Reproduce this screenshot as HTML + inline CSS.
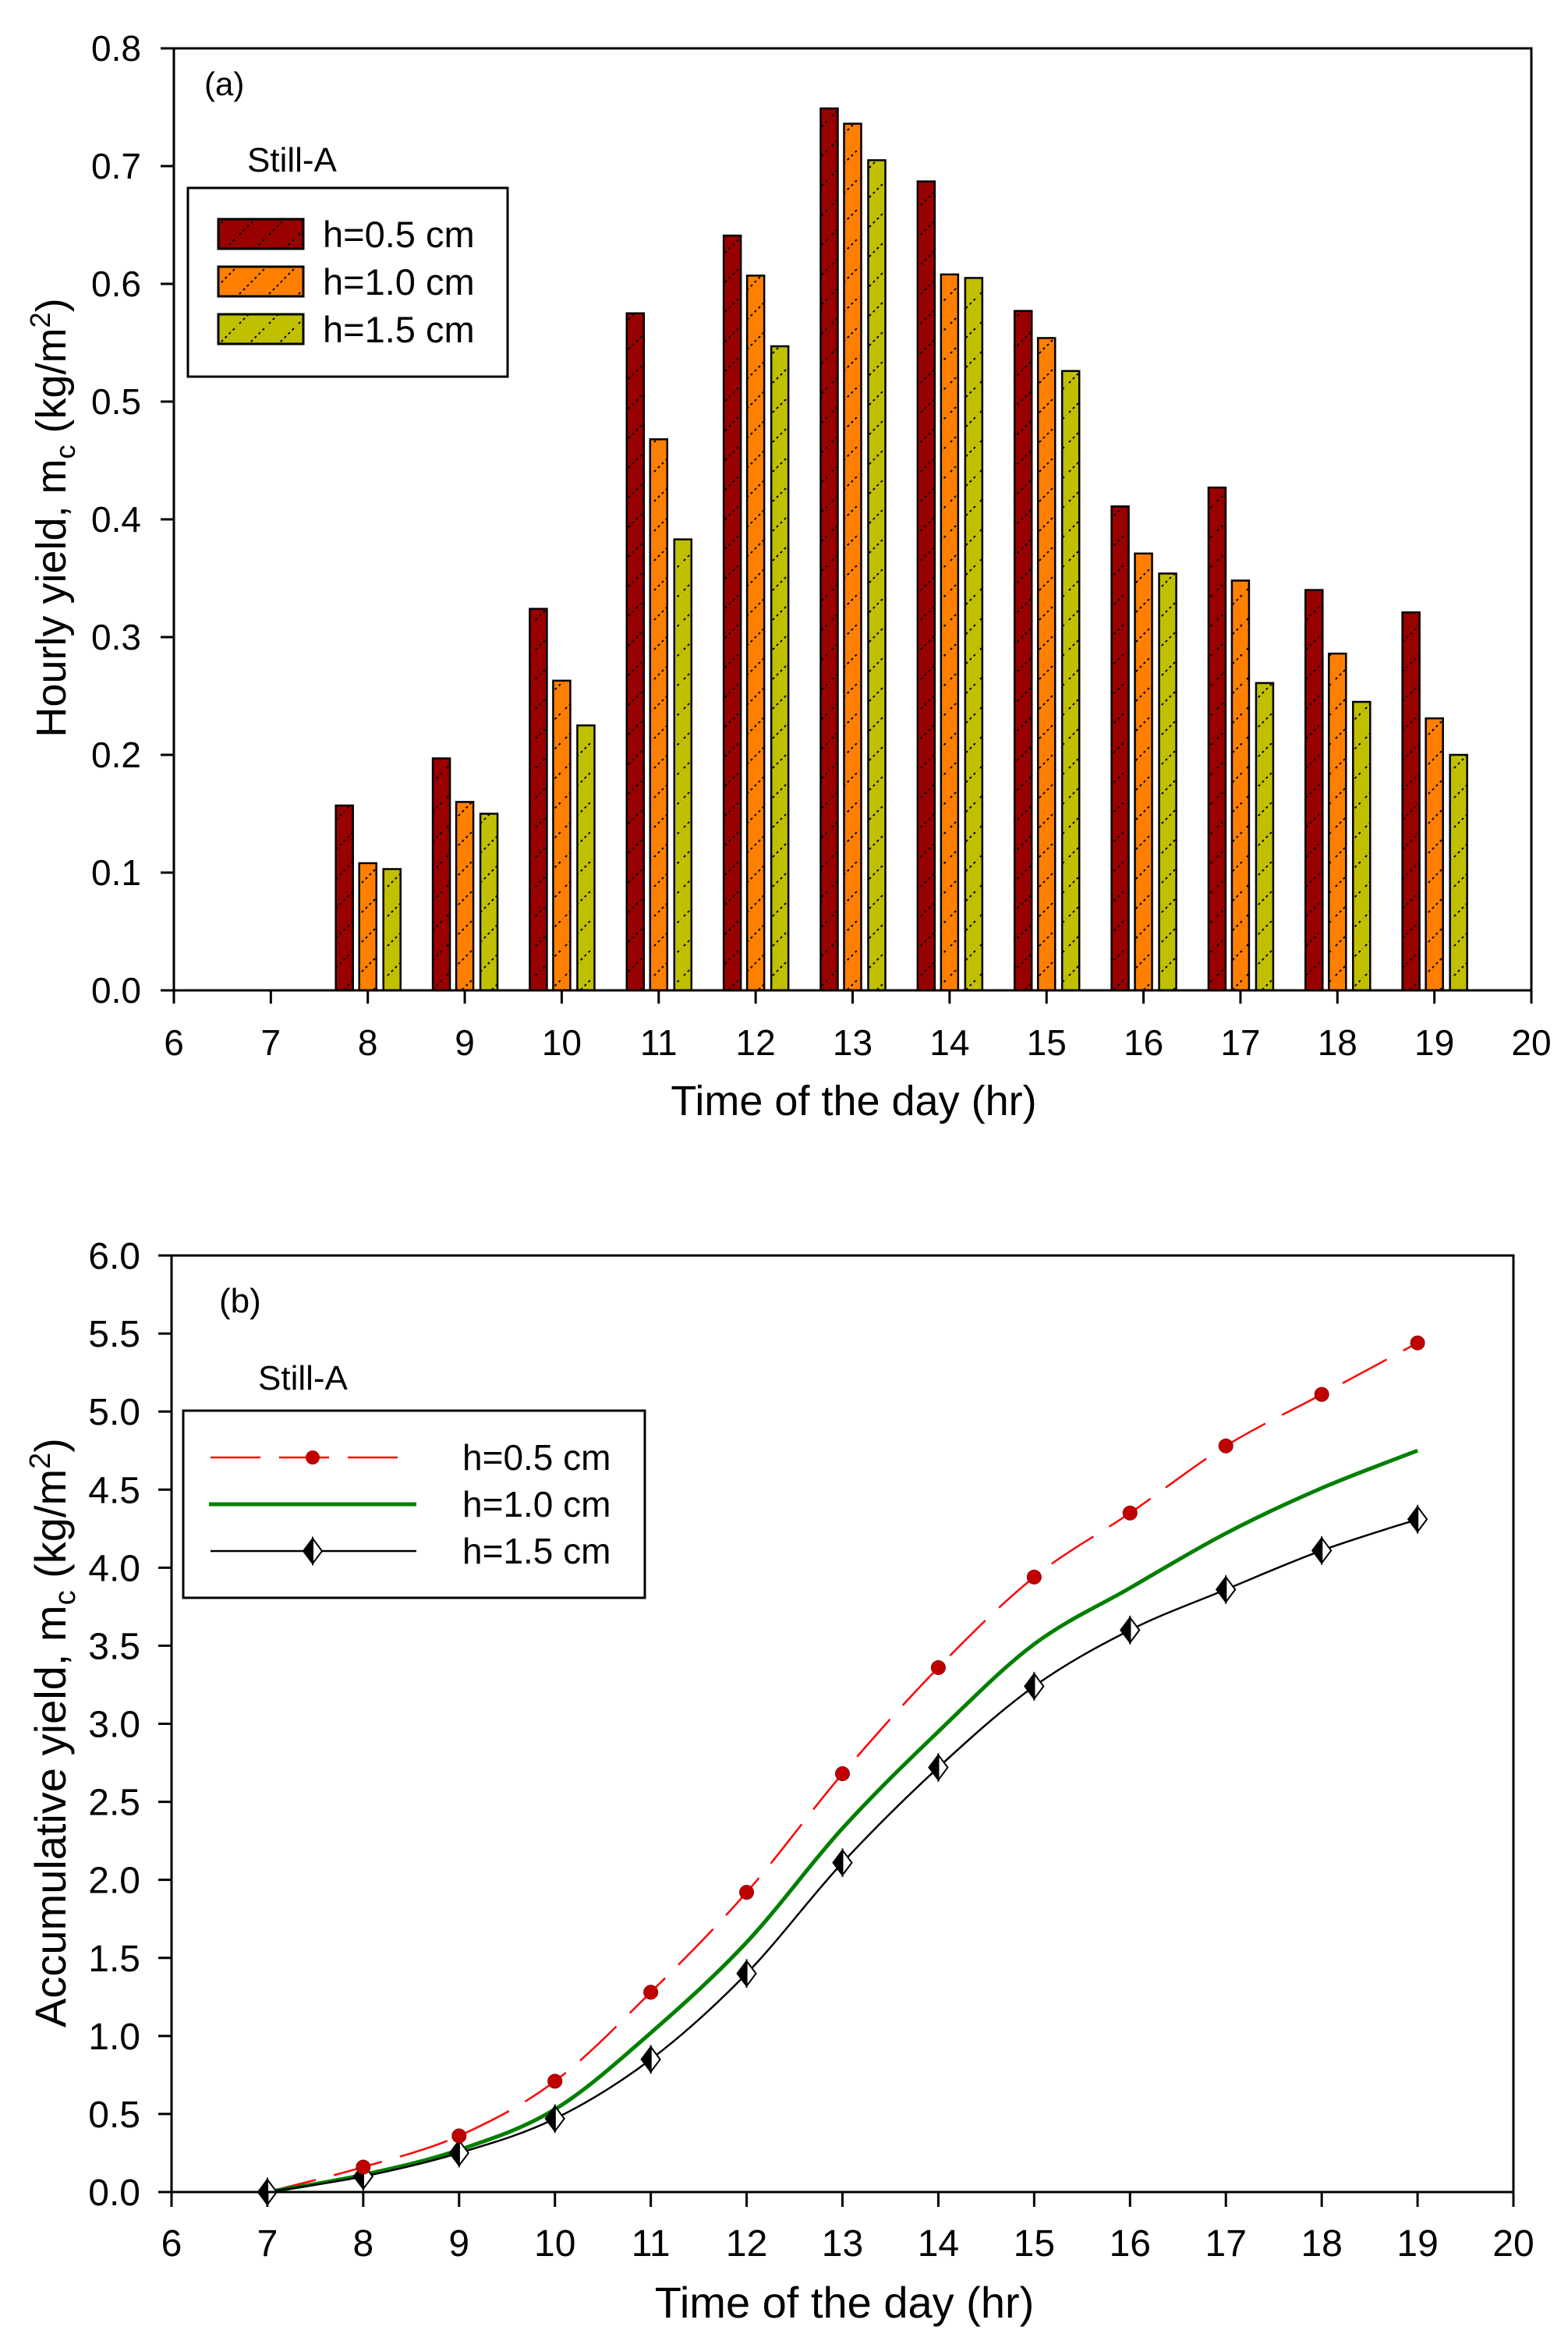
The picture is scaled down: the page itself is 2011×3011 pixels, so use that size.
<!DOCTYPE html>
<html><head><meta charset="utf-8"><style>
html,body{margin:0;padding:0;background:#fff;}
svg{display:block;font-family:"Liberation Sans",Arial,sans-serif;}
</style></head><body>
<svg id="root" width="2011" height="3011" viewBox="0 0 2011 3011" xmlns="http://www.w3.org/2000/svg">
<defs>
<pattern id="hatch" patternUnits="userSpaceOnUse" width="38" height="38">
<line x1="-2" y1="40" x2="40" y2="-2" stroke="#000" stroke-width="2" stroke-dasharray="3,4"/>
</pattern>
</defs>
<g id="chartA"></g>
<g id="chartB"></g>
</svg>
<script>
// ---- Chart (a) data ----
const hoursA = [8, 9, 10, 11, 12, 13, 14, 15, 16, 17, 18, 19];
const yieldA05 = [0.157, 0.197, 0.324, 0.575, 0.641, 0.749, 0.687, 0.577, 0.411, 0.427, 0.340, 0.321];
const yieldA10 = [0.108, 0.160, 0.263, 0.468, 0.607, 0.736, 0.608, 0.554, 0.371, 0.348, 0.286, 0.231];
const yieldA15 = [0.103, 0.150, 0.225, 0.383, 0.547, 0.705, 0.605, 0.526, 0.354, 0.261, 0.245, 0.200];
const xTicksA = [6, 7, 8, 9, 10, 11, 12, 13, 14, 15, 16, 17, 18, 19, 20];
const yTicksA = ["0.0", "0.1", "0.2", "0.3", "0.4", "0.5", "0.6", "0.7", "0.8"];
const seriesNamesA = ["h=0.5 cm", "h=1.0 cm", "h=1.5 cm"];
// ---- Chart (b) data ----
const hoursB = [7, 8, 9, 10, 11, 12, 13, 14, 15, 16, 17, 18, 19];
const accB05 = [0, 0.16, 0.36, 0.71, 1.28, 1.92, 2.68, 3.36, 3.94, 4.35, 4.78, 5.11, 5.44];
const accB10 = [0, 0.11, 0.27, 0.53, 1.02, 1.60, 2.33, 2.95, 3.51, 3.87, 4.22, 4.51, 4.75];
const accB15 = [0, 0.10, 0.25, 0.47, 0.85, 1.40, 2.11, 2.72, 3.24, 3.60, 3.86, 4.11, 4.31];
const xTicksB = [6, 7, 8, 9, 10, 11, 12, 13, 14, 15, 16, 17, 18, 19, 20];
const yTicksB = ["0.0", "0.5", "1.0", "1.5", "2.0", "2.5", "3.0", "3.5", "4.0", "4.5", "5.0", "5.5", "6.0"];

const NS = "http://www.w3.org/2000/svg";
function mk(parent, tag, attrs, text) {
  const e = document.createElementNS(NS, tag);
  for (const k in attrs) e.setAttribute(k, attrs[k]);
  if (text !== undefined) e.textContent = text;
  parent.appendChild(e);
  return e;
}

// ===== Chart A =====
(function () {
  const g = document.getElementById('chartA');
  const L = 223, R = 1964, T = 62, B = 1270;
  const xA = v => L + (v - 6) / 14 * (R - L);
  const yA = v => B - v / 0.8 * (B - T);
  const colors = ["#990000", "#FF8000", "#C0C000"];
  const series = [yieldA05, yieldA10, yieldA15];
  const offs = [-30, 0, 31];
  const bw = 22;
  series.forEach((arr, s) => {
    arr.forEach((v, i) => {
      const cx = xA(hoursA[i]) + offs[s];
      const r = mk(g, 'rect', {x: cx - bw / 2, y: yA(v), width: bw, height: yA(0) - yA(v), fill: colors[s], stroke: '#000', 'stroke-width': 2.5});
      
      
      const h = mk(g, 'rect', {x: cx - bw / 2, y: yA(v), width: bw, height: yA(0) - yA(v), fill: 'url(#hatch)'});
      
      
    });
  });
  const frame = mk(g, 'rect', {x: L, y: T, width: R - L, height: B - T, fill: 'none', stroke: '#000', 'stroke-width': 3});
  
  
  xTicksA.forEach(t => {
    const x = xA(t);
    const tk = mk(g, 'line', {x1: x, y1: B, x2: x, y2: B + 17, stroke: '#000', 'stroke-width': 3});
    
    
    const lb = mk(g, 'text', {x: x, y: B + 83, 'font-size': 46, 'text-anchor': 'middle'}, String(t));
    
    
  });
  yTicksA.forEach(t => {
    const y = yA(parseFloat(t));
    const tk = mk(g, 'line', {x1: L - 17, y1: y, x2: L, y2: y, stroke: '#000', 'stroke-width': 3});
    
    
    const lb = mk(g, 'text', {x: 181, y: y + 16, 'font-size': 46, 'text-anchor': 'end'}, t);
    
    
  });
  const xt = mk(g, 'text', {x: 1095, y: 1430, 'font-size': 54, 'text-anchor': 'middle'}, 'Time of the day (hr)');
  
  
  const yt = mk(g, 'text', {transform: 'translate(84,664) rotate(-90)', 'font-size': 54, 'text-anchor': 'middle'});
  
  
  yt.innerHTML = 'Hourly yield, m<tspan font-size="36" dy="12">c</tspan><tspan dy="-12"> (kg/m</tspan><tspan font-size="36" dy="-20">2</tspan><tspan dy="20">)</tspan>';
  const pl = mk(g, 'text', {x: 262, y: 122, 'font-size': 42}, '(a)');
  
  
  const st = mk(g, 'text', {x: 317, y: 220, 'font-size': 44}, 'Still-A');
  
  
  const lg = mk(g, 'g', {});
  
  
  mk(lg, 'rect', {x: 241, y: 241, width: 410, height: 242, fill: '#fff', stroke: '#000', 'stroke-width': 3});
  const rowsY = [300, 361, 422];
  seriesNamesA.forEach((n, s) => {
    const ent = mk(lg, 'g', {});
    
    
    mk(ent, 'rect', {x: 280, y: rowsY[s] - 19, width: 109, height: 38, fill: colors[s], stroke: '#000', 'stroke-width': 3});
    mk(ent, 'rect', {x: 280, y: rowsY[s] - 19, width: 109, height: 38, fill: 'url(#hatch)'});
    mk(ent, 'text', {x: 414, y: rowsY[s] + 17, 'font-size': 47}, n);
  });
})();

// ===== Chart B =====
(function () {
  const g = document.getElementById('chartB');
  const L = 220, R = 1941, T = 1610, B = 2811;
  const xB = v => L + (v - 6) / 14 * (R - L);
  const yB = v => B - v / 6 * (B - T);
  function smoothPath(xs, ys) {
    const p = xs.map((x, i) => [xB(x), yB(ys[i])]);
    let d = 'M' + p[0][0] + ',' + p[0][1];
    for (let i = 0; i < p.length - 1; i++) {
      const p0 = p[i - 1] || p[i], p1 = p[i], p2 = p[i + 1], p3 = p[i + 2] || p[i + 1];
      const c1 = [p1[0] + (p2[0] - p0[0]) / 6, p1[1] + (p2[1] - p0[1]) / 6];
      const c2 = [p2[0] - (p3[0] - p1[0]) / 6, p2[1] - (p3[1] - p1[1]) / 6];
      d += ' C' + c1[0] + ',' + c1[1] + ' ' + c2[0] + ',' + c2[1] + ' ' + p2[0] + ',' + p2[1];
    }
    return d;
  }
  const l1 = mk(g, 'path', {d: smoothPath(hoursB, accB05), fill: 'none', stroke: '#FF0000', 'stroke-width': 2.5, 'stroke-dasharray': '64,24'});
  
  
  const l2 = mk(g, 'path', {d: smoothPath(hoursB, accB10), fill: 'none', stroke: '#008000', 'stroke-width': 5});
  
  
  const l3 = mk(g, 'path', {d: smoothPath(hoursB, accB15), fill: 'none', stroke: '#000', 'stroke-width': 2.5});
  
  
  function diamond(parent, x, y) {
    const d = mk(parent, 'g', {});
    mk(d, 'path', {d: `M${x},${y-16} L${x+12},${y} L${x},${y+16} Z`, fill: '#fff', stroke: '#000', 'stroke-width': 2});
    mk(d, 'path', {d: `M${x},${y-16} L${x-12},${y} L${x},${y+16} Z`, fill: '#000', stroke: '#000', 'stroke-width': 2});
    return d;
  }
  accB15.forEach((v, i) => {
    const m = diamond(g, xB(hoursB[i]), yB(v));
    
    
  });
  accB05.forEach((v, i) => {
    if (i === 0) return;
    const c = mk(g, 'circle', {cx: xB(hoursB[i]), cy: yB(v), r: 9, fill: '#C00000', stroke: '#990000', 'stroke-width': 1});
    
    
  });
  const frame = mk(g, 'rect', {x: L, y: T, width: R - L, height: B - T, fill: 'none', stroke: '#000', 'stroke-width': 3});
  
  
  xTicksB.forEach(t => {
    const x = xB(t);
    const tk = mk(g, 'line', {x1: x, y1: B, x2: x, y2: B + 19, stroke: '#000', 'stroke-width': 3});
    
    
    const lb = mk(g, 'text', {x: x, y: B + 82, 'font-size': 48, 'text-anchor': 'middle'}, String(t));
    
    
  });
  yTicksB.forEach(t => {
    const y = yB(parseFloat(t));
    const tk = mk(g, 'line', {x1: L - 17, y1: y, x2: L, y2: y, stroke: '#000', 'stroke-width': 3});
    
    
    const lb = mk(g, 'text', {x: 180, y: y + 17, 'font-size': 48, 'text-anchor': 'end'}, t);
    
    
  });
  const xt = mk(g, 'text', {x: 1083, y: 2972, 'font-size': 56, 'text-anchor': 'middle'}, 'Time of the day (hr)');
  
  
  const yt = mk(g, 'text', {transform: 'translate(84,2222) rotate(-90)', 'font-size': 56, 'text-anchor': 'middle'});
  
  
  yt.innerHTML = 'Accumulative yield, m<tspan font-size="38" dy="12">c</tspan><tspan dy="-12"> (kg/m</tspan><tspan font-size="38" dy="-20">2</tspan><tspan dy="20">)</tspan>';
  const pl = mk(g, 'text', {x: 281, y: 1683, 'font-size': 44}, '(b)');
  
  
  const st = mk(g, 'text', {x: 331, y: 1782, 'font-size': 44}, 'Still-A');
  
  
  const lg = mk(g, 'g', {});
  
  
  mk(lg, 'rect', {x: 235, y: 1809, width: 592, height: 240, fill: '#fff', stroke: '#000', 'stroke-width': 3});
  const rows = [1869, 1929, 1989];
  const e1 = mk(lg, 'g', {});
  
  
  mk(e1, 'line', {x1: 270, y1: rows[0], x2: 534, y2: rows[0], stroke: '#FF0000', 'stroke-width': 2.5, 'stroke-dasharray': '64,24'});
  mk(e1, 'circle', {cx: 401, cy: rows[0], r: 9, fill: '#C00000'});
  mk(e1, 'text', {x: 593, y: rows[0] + 16, 'font-size': 46}, 'h=0.5 cm');
  const e2 = mk(lg, 'g', {});
  
  
  mk(e2, 'line', {x1: 268, y1: rows[1], x2: 534, y2: rows[1], stroke: '#008000', 'stroke-width': 5});
  mk(e2, 'text', {x: 593, y: rows[1] + 16, 'font-size': 46}, 'h=1.0 cm');
  const e3 = mk(lg, 'g', {});
  
  
  mk(e3, 'line', {x1: 270, y1: rows[2], x2: 534, y2: rows[2], stroke: '#000', 'stroke-width': 2.5});
  diamond(e3, 401, rows[2]);
  mk(e3, 'text', {x: 593, y: rows[2] + 16, 'font-size': 46}, 'h=1.5 cm');
})();
</script>
</body></html>
